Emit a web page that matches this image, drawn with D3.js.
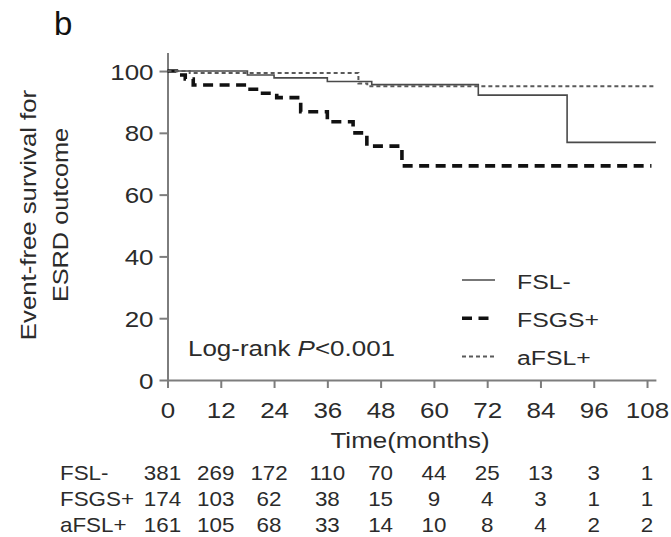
<!DOCTYPE html>
<html>
<head>
<meta charset="utf-8">
<script src="https://cdn.jsdelivr.net/npm/d3@7"></script>
<style>
  body { margin: 0; background: #fff; }
  svg text { font-family: 'Liberation Sans', Arial, sans-serif; fill: #2b2b2b; }
</style>
</head>
<body>
<div id="viz"></div>
<script>
/* Kaplan-Meier curves, event-free survival for ESRD outcome */

// step curves (months, % event-free)
var fslTime  = [0, 18, 24, 36, 46, 70, 90, 110],
    fslSurv  = [100, 98.7, 97.8, 96.6, 95.6, 92.2, 76.9, 76.9];

var fsgsTime = [0, 2, 4, 5.8, 18, 20.5, 24.6, 30, 36, 41.8, 44.9, 52.8, 109],
    fsgsSurv = [100, 98.7, 97.4, 95.5, 94.1, 92.8, 91.4, 86.8, 83.6, 80.0, 75.7, 69.3, 69.3];

var aflTime  = [0, 5, 43, 45, 110],
    aflSurv  = [100, 99.4, 96, 95.1, 95.1];

var groups   = ['FSL-', 'FSGS+', 'aFSL+'];
var xTicks   = [0, 12, 24, 36, 48, 60, 72, 84, 96, 108],
    yTicks   = [0, 20, 40, 60, 80, 100];

// numbers at risk, one row per group
var riskFsl  = [381, 269, 172, 110, 70, 44, 25, 13, 3, 1],
    riskFsgs = [174, 103, 62, 38, 15, 9, 4, 3, 1, 1],
    riskAfl  = [161, 105, 68, 33, 14, 10, 8, 4, 2, 2];

var width = 671, height = 537,
    sx = 1.18;   // the original font is a bit wide

var svg = d3.select('#viz').append('svg')
    .attr('width', width)
    .attr('height', height);

var x = d3.scaleLinear().domain([0, 110]).range([167.5, 655.9]);
var y = d3.scaleLinear().domain([0, 106]).range([380, 52.5]);

function label(parent, px, py, str, anchor, size, k) {
  return parent.append('text')
    .attr('transform', 'translate(' + px + ',' + py + ') scale(' + (k || sx) + ',1)')
    .attr('text-anchor', anchor)
    .style('font-size', size + 'px')
    .text(str);
}

// panel letter
label(svg, 54, 35, 'b', 'start', 33, 1.0).style('fill', '#111');

// axes
var xAxis = d3.axisBottom(x).tickValues(xTicks).tickSize(8).tickSizeOuter(0);
var yAxis = d3.axisLeft(y).tickValues(yTicks).tickSize(8).tickSizeOuter(0);

var xGuide = svg.append('g')
    .attr('transform', 'translate(0,' + y(0) + ')')
    .call(xAxis);
xGuide.selectAll('text')
    .attr('y', null).attr('dy', null)
    .attr('transform', 'translate(0,38) scale(' + sx + ',1)')
    .style('font-size', '22px');

var yGuide = svg.append('g')
    .attr('transform', 'translate(' + x(0) + ',0)')
    .call(yAxis);
yGuide.selectAll('text')
    .attr('x', null)
    .attr('transform', 'translate(-14,1) scale(' + sx + ',1)')
    .style('font-size', '22px');

svg.selectAll('.domain, .tick line')
    .attr('stroke', '#7d7d7d')
    .attr('stroke-width', 2);

// axis titles
label(svg, 410, 448, 'Time(months)', 'middle', 22);

var yt = svg.append('g').attr('transform', 'translate(36,215) rotate(-90)');
label(yt, 0, 0, 'Event-free survival for', 'middle', 22, 1.17);
var yt2 = svg.append('g').attr('transform', 'translate(68,215) rotate(-90)');
label(yt2, 0, 0, 'ESRD outcome', 'middle', 22, 1.15);

// curves
var line = d3.line()
    .curve(d3.curveStepAfter)
    .x(function(d) { return x(d[0]); })
    .y(function(d) { return y(d[1]); });

var styles = [
  { color: '#4a4a4a', w: 1.6, dash: null },
  { color: '#111',    w: 3.6, dash: '10,6.5' },
  { color: '#5a5a5a', w: 2,   dash: '4,3' }
];

var curves = [d3.zip(fslTime, fslSurv), d3.zip(fsgsTime, fsgsSurv), d3.zip(aflTime, aflSurv)];

svg.append('g').selectAll('path').data(curves)
  .enter().append('path')
    .attr('d', line)
    .attr('fill', 'none')
    .attr('stroke', function(d, i) { return styles[i].color; })
    .attr('stroke-width', function(d, i) { return styles[i].w; })
    .attr('stroke-dasharray', function(d, i) { return styles[i].dash; });

// legend
var legend = svg.append('g').selectAll('g').data(groups)
  .enter().append('g')
    .attr('transform', function(d, i) { return 'translate(462,' + (280 + i * 38.3) + ')'; });

legend.append('line')
    .attr('x1', 0).attr('x2', 33)
    .attr('stroke', function(d, i) { return styles[i].color; })
    .attr('stroke-width', function(d, i) { return styles[i].w; })
    .attr('stroke-dasharray', function(d, i) { return styles[i].dash; });

legend.each(function(d) {
  label(d3.select(this), 55, 8.5, d, 'start', 21);
});

// log-rank note
var lr = label(svg, 188, 356, '', 'start', 22);
lr.append('tspan').text('Log-rank ');
lr.append('tspan').style('font-style', 'italic').text('P');
lr.append('tspan').text('<0.001');

// numbers at risk
var risk = [riskFsl, riskFsgs, riskAfl];
var rows = svg.append('g').selectAll('g').data(risk)
  .enter().append('g')
    .attr('transform', function(d, i) { return 'translate(0,' + (480 + i * 26) + ')'; });

rows.each(function(r, i) {
  var row = d3.select(this);
  label(row, 60, 0, groups[i], 'start', 20, 1.12);
  r.forEach(function(v, j) {
    label(row, x(xTicks[j]) - (j < 3 ? 5 : 0), 0, v, 'middle', 20, 1.12);
  });
});
</script>
</body>
</html>
